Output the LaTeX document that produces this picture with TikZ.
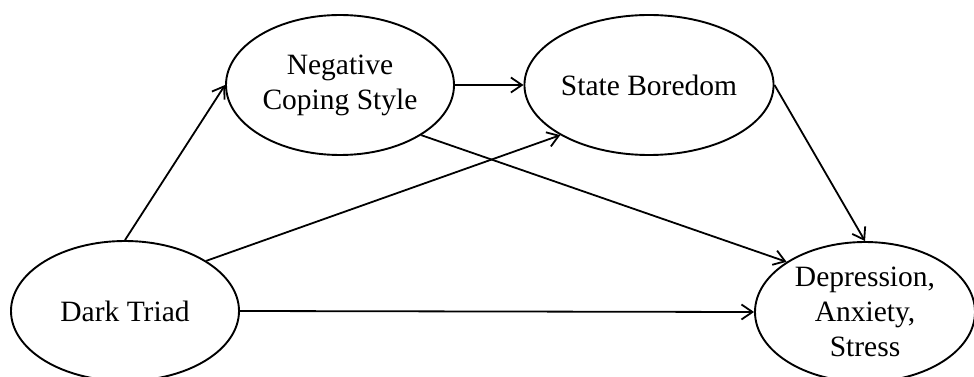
\documentclass[tikz,border=0pt]{standalone}
\usepackage{fontspec}
\setmainfont{Liberation Serif}
\usetikzlibrary{shapes.geometric,arrows.meta}
\begin{document}
\begin{tikzpicture}[x=1pt,y=-1pt,
  latent/.style={draw, line width=1.9pt, ellipse, inner sep=0pt, minimum width=228pt, minimum height=140pt, align=center, font=\fontsize{29.5}{35}\selectfont},
  arr/.style={draw, line width=1.8pt, -{Straight Barb[length=11pt,width=15pt,line width=1.8pt]}}]
\useasboundingbox (0,0) rectangle (974,377);
\node[latent] (dt) at (125,311) {Dark Triad};
\node[latent] (ncs) at (340,85) {Negative\\Coping Style};
\node[latent] (sb) at (649,85) {State Boredom};
\node[latent, minimum width=220pt] (dep) at (865,312) {Depression,\\Anxiety,\\Stress};
\draw[arr] (dt.north) -- (ncs.west);
\draw[arr] (ncs.east) -- (sb.west);
\draw[arr] (dt.north east) -- (sb.south west);
\draw[arr] (ncs.south east) -- (dep.north west);
\draw[arr] (sb.east) -- (dep.north);
\draw[arr] (dt.east) -- (dep.west);
\end{tikzpicture}
\end{document}
